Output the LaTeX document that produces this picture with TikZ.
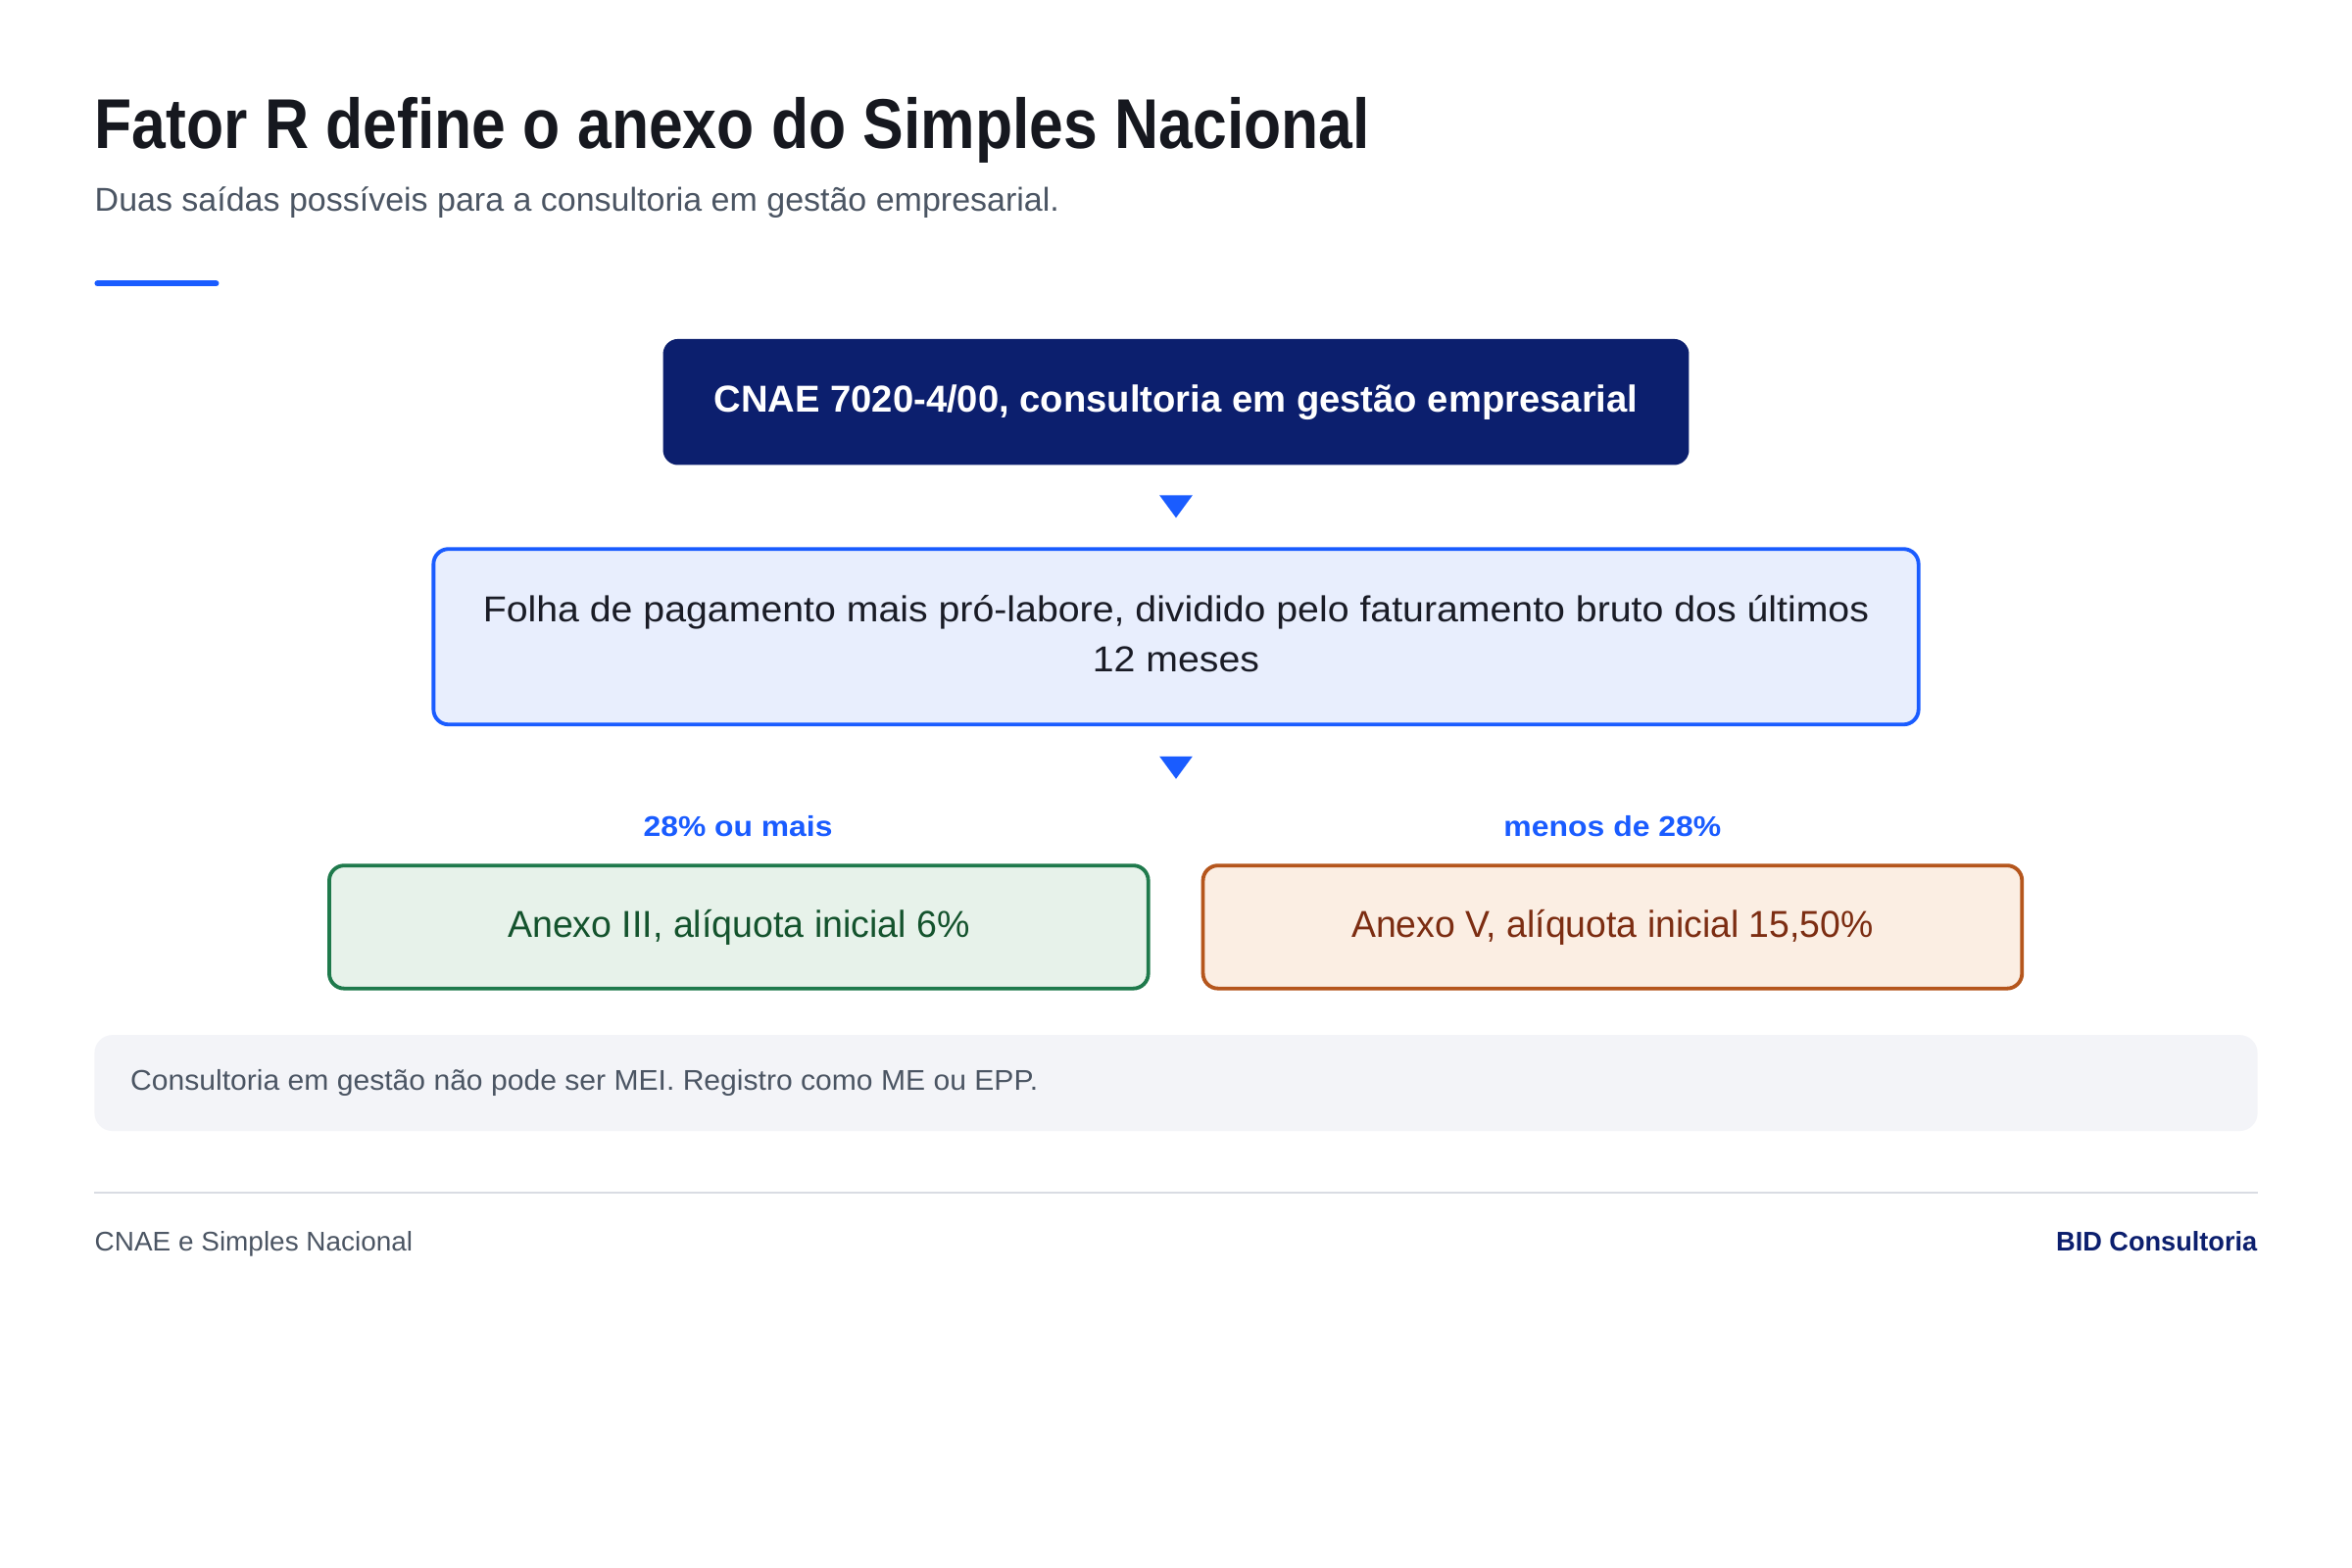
\documentclass[tikz,border=0pt]{standalone}
\usepackage{fontspec}
\usepackage{graphicx}
\setmainfont{Liberation Sans}
\usetikzlibrary{calc}
\definecolor{navy}{HTML}{0C1F6E}
\definecolor{accent}{HTML}{1A5CFF}
\definecolor{midfill}{HTML}{E8EEFD}
\definecolor{titlecol}{HTML}{16181F}
\definecolor{greycol}{HTML}{4B5563}
\definecolor{bodycol}{HTML}{1A1C26}
\definecolor{greenline}{HTML}{1F7A4C}
\definecolor{greenfill}{HTML}{E7F2EA}
\definecolor{greentext}{HTML}{14532D}
\definecolor{orangeline}{HTML}{B5561D}
\definecolor{orangefill}{HTML}{FBEEE3}
\definecolor{orangetext}{HTML}{7C2D12}
\definecolor{notefill}{HTML}{F3F4F8}
\definecolor{rulecol}{HTML}{D9DCE3}
\newcommand{\fitw}[2]{\resizebox{#1}{\height}{#2}}
\begin{document}
\begin{tikzpicture}[x=1pt,y=-1pt,
  box/.style={rounded corners=10pt, inner sep=0pt, align=center},
  topbox/.style={box, fill=navy, text=white, minimum width=684pt, minimum height=84pt},
  midbox/.style={box, fill=midfill, draw=accent, line width=2.5pt, text=bodycol, minimum width=990pt, minimum height=117pt},
  leftbox/.style={box, fill=greenfill, draw=greenline, line width=2.5pt, text=greentext, minimum width=546pt, minimum height=82pt},
  rightbox/.style={box, fill=orangefill, draw=orangeline, line width=2.5pt, text=orangetext, minimum width=546pt, minimum height=82pt},
  notebox/.style={rounded corners=12pt, fill=notefill, inner sep=0pt, minimum width=1442pt, minimum height=64pt},
  branchlabel/.style={text=accent, inner sep=0pt, font=\fontsize{19}{22}\selectfont\bfseries},
  tri/.style={fill=accent}
]
\useasboundingbox (0,0) rectangle (1568,1045.33);
\fill[white] (0,0) rectangle (1568,1045.33);

% title
\node[anchor=base west, inner sep=0pt, text=titlecol] (title) at (63,99)
  {\fitw{850pt}{\fontsize{47}{50}\selectfont\bfseries Fator R define o anexo do Simples Nacional}};
\node[anchor=base west, inner sep=0pt, text=greycol] (subtitle) at (63,141)
  {\fitw{643pt}{\fontsize{22}{26}\selectfont Duas saídas possíveis para a consultoria em gestão empresarial.}};
\draw[accent, line width=4pt, line cap=round] (65,189) coordinate (barA) -- (144,189) coordinate (barB);

% boxes
\node[topbox] (top) at (784,268)
  {\fitw{616pt}{\fontsize{25}{28}\selectfont\bfseries CNAE 7020-4/00, consultoria em gestão empresarial}};
\node[midbox] (mid) at (784,424.5)
  {\fitw{924pt}{\fontsize{24}{34}\selectfont\begin{tabular}{@{}c@{}}Folha de pagamento mais pró-labore, dividido pelo faturamento bruto dos últimos\\[-1pt] 12 meses\end{tabular}}};
\node[leftbox] (left) at (492.5,618)
  {\fitw{308pt}{\fontsize{25}{28}\selectfont Anexo III, alíquota inicial 6\%}};
\node[rightbox] (right) at (1075,618)
  {\fitw{348pt}{\fontsize{25}{28}\selectfont Anexo V, alíquota inicial 15,50\%}};
\node[branchlabel] (lblL) at (492,551) {\fitw{126pt}{28\% ou mais}};
\node[branchlabel] (lblR) at (1075,551) {\fitw{145pt}{menos de 28\%}};

% connectors (triangle heads)
\fill[tri] ($(top.south)+(-11,20)$) -- ($(top.south)+(11,20)$) -- ($(top.south)+(0,35)$) -- cycle;
\fill[tri] ($(mid.south)+(-11,20)$) -- ($(mid.south)+(11,20)$) -- ($(mid.south)+(0,35)$) -- cycle;

% note
\node[notebox] (note) at (784,722) {};
\node[anchor=west, inner sep=0pt, text=greycol] (notetext) at ($(note.west)+(24,0)$)
  {\fitw{605pt}{\fontsize{19}{22}\selectfont Consultoria em gestão não pode ser MEI. Registro como ME ou EPP.}};

% footer
\draw[rulecol, line width=1.5pt] (63,795) coordinate (ruleA) -- (1505,795) coordinate (ruleB);
\node[anchor=base west, inner sep=0pt, text=greycol] (footL) at (63,834)
  {\fitw{212pt}{\fontsize{18}{20}\selectfont CNAE e Simples Nacional}};
\node[anchor=base east, inner sep=0pt, text=navy] (footR) at (1505,834)
  {\fitw{134pt}{\fontsize{18}{20}\selectfont\bfseries BID Consultoria}};
\end{tikzpicture}
\end{document}
